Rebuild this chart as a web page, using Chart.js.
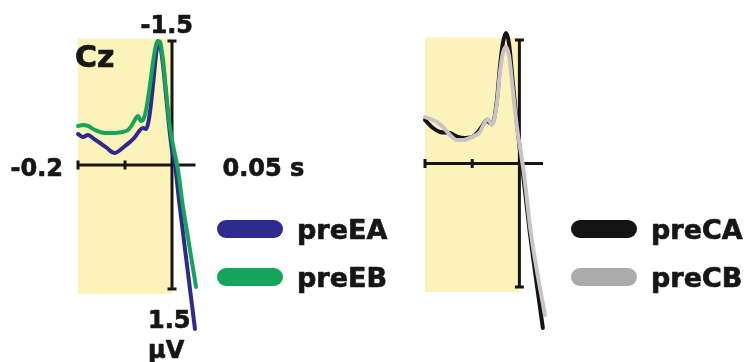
<!DOCTYPE html>
<html><head><meta charset="utf-8">
<script src="https://cdn.jsdelivr.net/npm/chart.js@4/dist/chart.umd.min.js"></script>
<style>
html,body{margin:0;padding:0;background:#fff;width:748px;height:362px;overflow:hidden}
canvas{position:absolute;left:0;top:0}
</style></head><body>
<canvas id="c1" width="748" height="362"></canvas>
<canvas id="c2" width="748" height="362"></canvas>
<script>
// ---- data (time in s, amplitude in µV; negative plotted upward) ----
const timeEA = [-0.2,-0.1894,-0.1787,-0.166,-0.1532,-0.1383,-0.1277,-0.1213,-0.1106,-0.1,-0.0894,-0.0787,-0.0681,-0.0617,-0.0553,-0.0511,-0.0468,-0.0426,-0.0383,-0.034,-0.0298,-0.0255,-0.0191,-0.0128,-0.0064,0,0.0064,0.0149,0.0319,0.0489];
const valEA  = [-0.375,-0.339,-0.363,-0.315,-0.266,-0.206,-0.157,-0.145,-0.181,-0.23,-0.278,-0.339,-0.423,-0.448,-0.435,-0.496,-0.641,-0.847,-1.089,-1.331,-1.476,-1.452,-1.21,-0.847,-0.484,-0.181,0,0.423,1.21,1.984];
const timeEB = [-0.2,-0.1894,-0.1787,-0.1638,-0.1426,-0.1213,-0.1064,-0.0936,-0.0851,-0.0766,-0.0723,-0.066,-0.0596,-0.0532,-0.0468,-0.0404,-0.034,-0.0298,-0.0255,-0.0191,-0.0128,-0.0064,0,0.0064,0.0128,0.0213,0.0383,0.0511];
const valEB  = [-0.472,-0.484,-0.472,-0.423,-0.387,-0.387,-0.399,-0.423,-0.484,-0.569,-0.593,-0.532,-0.569,-0.726,-0.968,-1.246,-1.452,-1.5,-1.488,-1.27,-0.907,-0.544,-0.302,-0.121,0.06,0.423,1.028,1.476];
const timeCA = [-0.2,-0.1831,-0.1683,-0.1471,-0.1302,-0.1153,-0.1005,-0.0878,-0.0772,-0.0688,-0.0624,-0.0561,-0.0476,-0.0413,-0.0349,-0.0286,-0.0222,-0.0138,-0.0053,0.0011,0.0074,0.0222,0.0497];
const valCA  = [-0.528,-0.431,-0.383,-0.37,-0.322,-0.31,-0.322,-0.383,-0.468,-0.528,-0.492,-0.504,-0.771,-1.172,-1.464,-1.585,-1.464,-0.978,-0.492,-0.164,0.115,0.844,1.998];
const timeCB = [-0.2,-0.1746,-0.1619,-0.1471,-0.1323,-0.1196,-0.1005,-0.0836,-0.073,-0.0667,-0.0582,-0.0476,-0.0413,-0.0349,-0.0286,-0.0222,-0.0138,-0.0053,0.0032,0.0095,0.0243,0.054];
const valCB  = [-0.565,-0.504,-0.443,-0.346,-0.285,-0.285,-0.322,-0.383,-0.504,-0.54,-0.468,-0.735,-1.099,-1.342,-1.415,-1.318,-0.893,-0.443,-0.128,0.115,0.844,1.84];

const seriesNames = ['preEA','preEB','preCA','preCB'];
const xTicks = [-0.2, -0.1, 0];
const xRange = [-0.2, 0.05];
const yRange = [-1.5, 1.5];
const xTickLabels = ['-0.2', '0.05 s'];
const yTickLabels = ['-1.5', '1.5', 'μV'];
const channelLabel = 'Cz';
const baselineBand = {x: [-0.2, 0], y: [-1.53, 1.56]};

const FONT = '"DejaVu Sans", Verdana, sans-serif';
const INK = '#161616';

function pts(t, v){ return t.map((tt,i)=>({x:tt, y:v[i]})); }

function boldText(ctx, s, x, y){
  ctx.lineWidth = 0.7; ctx.strokeStyle = INK; ctx.lineJoin = 'round';
  ctx.strokeText(s, x, y); ctx.fillText(s, x, y);
}

function panelPlugin(showLabels, legendX, swatchColors){
  return {
    id: 'panel',
    beforeDatasetsDraw(chart){
      const {ctx, scales:{x, y}} = chart;
      ctx.save();
      ctx.fillStyle = '#fcf3bb';
      const bx1 = x.getPixelForValue(baselineBand.x[0]), bx2 = x.getPixelForValue(baselineBand.x[1]);
      const by1 = y.getPixelForValue(baselineBand.y[0]), by2 = y.getPixelForValue(baselineBand.y[1]);
      ctx.fillRect(bx1, by1, bx2-bx1, by2-by1);
      const x0 = x.getPixelForValue(0), y0 = y.getPixelForValue(0);
      const yT = y.getPixelForValue(yRange[0]), yB = y.getPixelForValue(yRange[1]);
      ctx.strokeStyle = INK; ctx.lineWidth = 3; ctx.lineCap = 'butt';
      ctx.beginPath();
      ctx.moveTo(x.getPixelForValue(xRange[0]), y0); ctx.lineTo(x.getPixelForValue(xRange[1]), y0);
      ctx.moveTo(x0, yT); ctx.lineTo(x0, yB);
      xTicks.forEach(t=>{ const px = x.getPixelForValue(t); ctx.moveTo(px, y0-4.5); ctx.lineTo(px, y0+4.5); });
      ctx.moveTo(x0-4.5, yT); ctx.lineTo(x0+4.5, yT);
      ctx.moveTo(x0-4.5, yB); ctx.lineTo(x0+4.5, yB);
      ctx.stroke();
      ctx.restore();
    },
    afterDraw(chart){
      const {ctx, scales:{x, y}} = chart;
      ctx.save();
      const x0 = x.getPixelForValue(0), y0 = y.getPixelForValue(0);
      const xL = x.getPixelForValue(xRange[0]), xR = x.getPixelForValue(xRange[1]);
      const yT = y.getPixelForValue(yRange[0]), yB = y.getPixelForValue(yRange[1]);
      ctx.fillStyle = INK;
      if (showLabels){
        ctx.font = 'bold 24px ' + FONT;
        ctx.textBaseline = 'alphabetic';
        ctx.textAlign = 'right';
        boldText(ctx, xTickLabels[0], xL - 15, y0 + 11);
        boldText(ctx, yTickLabels[0], x0 + 21, yT - 8);
        ctx.textAlign = 'left';
        boldText(ctx, xTickLabels[1], xR + 27, y0 + 11);
        boldText(ctx, yTickLabels[1], x0 - 24, yB + 39);
        boldText(ctx, yTickLabels[2], x0 - 24, yB + 69);
        ctx.font = 'bold 30px ' + FONT;
        boldText(ctx, channelLabel, xL - 3, 67);
      }
      const ds = chart.data.datasets;
      const rows = [229, 277];
      ds.forEach((d, i)=>{
        const cy = rows[i];
        ctx.strokeStyle = swatchColors[i]; ctx.lineWidth = 18; ctx.lineCap = 'round';
        ctx.beginPath(); ctx.moveTo(legendX + 9, cy); ctx.lineTo(legendX + 57, cy); ctx.stroke();
        ctx.fillStyle = INK; ctx.font = 'bold 27px ' + FONT; ctx.textAlign = 'left';
        boldText(ctx, d.label, legendX + 80, cy + 10);
      });
      ctx.restore();
    }
  };
}

function makeChart(id, datasets, padding, plugin){
  return new Chart(document.getElementById(id), {
    type: 'line',
    data: { datasets },
    options: {
      responsive: false, animation: false, devicePixelRatio: 1,
      layout: { padding },
      plugins: { legend: {display:false}, tooltip: {enabled:false}, title:{display:false} },
      elements: { point: {radius: 0}, line: {borderWidth: 4, cubicInterpolationMode: 'monotone', borderCapStyle:'round', borderJoinStyle:'round'} },
      scales: {
        x: { type:'linear', min: xRange[0], max: xRange[1], display:false },
        y: { type:'linear', min: yRange[0], max: yRange[1], reverse:true, display:false }
      }
    },
    plugins: [plugin]
  });
}

makeChart('c1', [
  { label: seriesNames[0], data: pts(timeEA, valEA), borderColor:'#2f2a8e', clip:false, order: 1 },
  { label: seriesNames[1], data: pts(timeEB, valEB), borderColor:'#14a55a', clip:false, order: 0 }
], {left: 78, right: 748-195.5, top: 41, bottom: 362-289}, panelPlugin(true, 217, ['#2f2a8e','#14a55a']));

makeChart('c2', [
  { label: seriesNames[2], data: pts(timeCA, valCA), borderColor:'#141414', clip:false, order: 1 },
  { label: seriesNames[3], data: pts(timeCB, valCB), borderColor:'#c9c3c3', clip:false, order: 0 }
], {left: 425, right: 748-543, top: 40, bottom: 362-287}, panelPlugin(false, 571, ['#141414','#ababab']));
</script>
</body></html>
